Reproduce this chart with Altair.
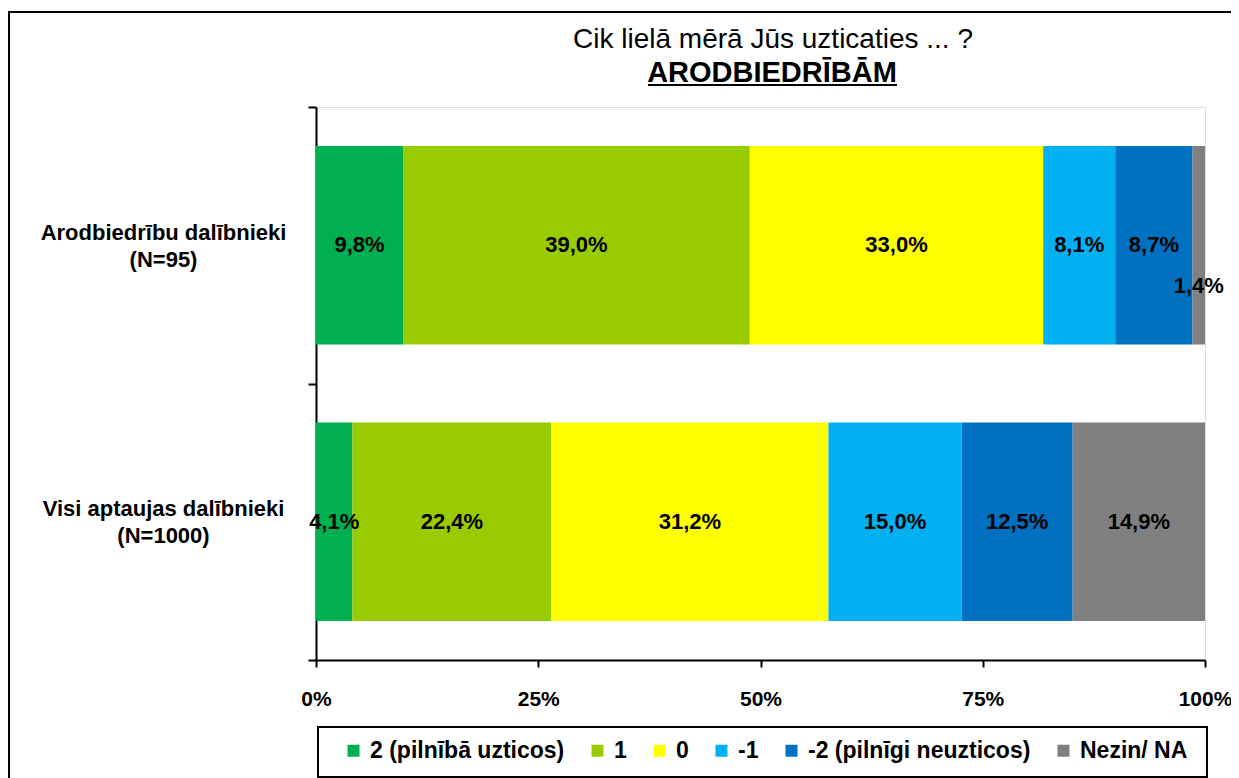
import altair as alt
import pandas as pd

FONT = "Liberation Sans"

title_line1 = "Cik lielā mērā Jūs uzticaties ... ?"
title_line2 = "ARODBIEDRĪBĀM"
groups = ["Arodbiedrību dalībnieki|(N=95)", "Visi aptaujas dalībnieki|(N=1000)"]
answers = ["2 (pilnībā uzticos)", "1", "0", "-1", "-2 (pilnīgi neuzticos)", "Nezin/ NA"]
values_members = [9.8, 39.0, 33.0, 8.1, 8.7, 1.4]
values_all = [4.1, 22.4, 31.2, 15.0, 12.5, 14.9]
colors = ["#00B050", "#99CC00", "#FFFF00", "#00B0F0", "#0070C0", "#808080"]
x_ticks = [0, 0.25, 0.5, 0.75, 1.0]

rows = []
for g, vals in zip(groups, [values_members, values_all]):
    for i, (a, v) in enumerate(zip(answers, vals)):
        rows.append({"group": g, "answer": a, "order": i, "value": v})
df = pd.DataFrame(rows)

base = alt.Chart(df).transform_joinaggregate(
    total="sum(value)", groupby=["group"]
).transform_window(
    cum="sum(value)", sort=[alt.SortField("order")], groupby=["group"],
    frame=[None, 0]
).transform_calculate(
    x0="(datum.cum - datum.value) / datum.total",
    x1="datum.cum / datum.total",
    mid="(datum.cum - datum.value / 2) / datum.total",
    label="replace(format(datum.value, '.1f'), '.', ',') + '%'",
)

y_enc = alt.Y(
    "group:N",
    sort=groups,
    scale=alt.Scale(domain=groups, paddingInner=0, paddingOuter=0),
    axis=alt.Axis(
        title=None, tickBand="extent", tickSize=8, tickColor="black", tickWidth=2,
        domainColor="black", domainWidth=2,
        labelExpr="split(datum.label, '|')", labelAlign="center",
        labelBaseline="middle", labelPadding=145, labelLineHeight=27,
        labelOffset=-13,
        labelFont=FONT, labelFontSize=22, labelFontWeight="bold",
        labelColor="black", labelLimit=400,
    ),
)
x_scale = alt.Scale(domain=[0, 1], nice=False)

bars = base.mark_bar(height=alt.RelativeBandSize(0.717)).encode(
    x=alt.X(
        "x0:Q", scale=x_scale,
        axis=alt.Axis(
            title=None, values=x_ticks, format=".0%", grid=False,
            tickSize=7, tickColor="black", tickWidth=2,
            domainColor="black", domainWidth=2,
            labelFont=FONT, labelFontSize=21, labelFontWeight="bold",
            labelColor="black", labelPadding=21, labelFlush=False,
        ),
    ),
    x2="x1:Q",
    y=y_enc,
    color=alt.Color(
        "answer:N",
        scale=alt.Scale(domain=answers, range=colors),
        legend=alt.Legend(
            title=None, orient="none", legendX=26, legendY=632,
            direction="horizontal", columns=6, columnPadding=21,
            symbolType="square", symbolSize=144, symbolStrokeWidth=0,
            labelFont=FONT, labelFontSize=23, labelFontWeight="bold",
            labelColor="black", labelOffset=5, padding=0, labelLimit=400,
        ),
    ),
)

text_big = base.transform_filter("datum.value >= 2").mark_text(
    font=FONT, fontSize=22, fontWeight="bold", color="black"
).encode(x=alt.X("mid:Q", scale=x_scale), y=alt.Y("group:N", sort=groups), text="label:N")

text_small = base.transform_filter("datum.value < 2").mark_text(
    font=FONT, fontSize=22, fontWeight="bold", color="black", dy=41
).encode(x=alt.X("mid:Q", scale=x_scale), y=alt.Y("group:N", sort=groups), text="label:N")

one = pd.DataFrame({"k": [0]})
titles = pd.DataFrame({"t1": [title_line1], "t2": [title_line2]})

frame = alt.Chart(one).mark_rect(
    fill="white", fillOpacity=0, stroke="black", strokeWidth=2
).encode(x=alt.value(-307), x2=alt.value(960), y=alt.value(-95), y2=alt.value(720))

legend_box = alt.Chart(one).mark_rect(
    fill="white", fillOpacity=0, stroke="black", strokeWidth=2
).encode(x=alt.value(2), x2=alt.value(891), y=alt.value(620), y2=alt.value(670))

title1 = alt.Chart(titles).mark_text(
    font=FONT, fontSize=28, color="black", align="center", baseline="alphabetic"
).encode(x=alt.value(457), y=alt.value(-59), text="t1:N")

title2 = alt.Chart(titles).mark_text(
    font=FONT, fontSize=29, fontWeight="bold", color="black", align="center",
    baseline="alphabetic"
).encode(x=alt.value(456), y=alt.value(-25), text="t2:N")

underline = alt.Chart(one).mark_rule(color="black", strokeWidth=2).encode(
    x=alt.value(332), x2=alt.value(581), y=alt.value(-22)
)

chart = alt.layer(
    frame, legend_box, bars, text_big, text_small, title1, title2, underline
).properties(
    width=889,
    height=553,
    padding={"left": 308, "top": 99, "right": 26, "bottom": 130},
    autosize=alt.AutoSizeParams(type="none"),
).configure_view(stroke="#808080", strokeWidth=2).configure(background="white")

chart.save("out.html", embed_options={"renderer": "svg", "actions": False})
